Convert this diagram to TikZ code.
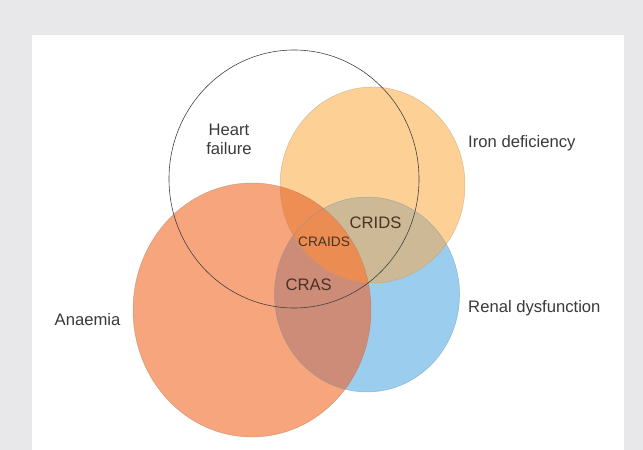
\documentclass[tikz,border=0pt]{standalone}
\usepackage{fontspec}
\setmainfont{Liberation Sans}

\definecolor{framegray}{HTML}{E8E8EA}
\definecolor{anaemiafill}{HTML}{F7A57D}
\definecolor{ironfill}{HTML}{FDD096}
\definecolor{renalfill}{HTML}{9BCDEE}
\definecolor{anaemiairon}{HTML}{EE8E55}
\definecolor{ironrenal}{HTML}{CDB996}
\definecolor{anaemiarenal}{HTML}{CD8C78}
\definecolor{allthree}{HTML}{EB8C52}
\definecolor{labelgray}{HTML}{3A3A3A}
\definecolor{innerlabel}{HTML}{4A3226}

\newcommand{\heartpath}{(294,179) ellipse [x radius=125, y radius=129]}
\newcommand{\ironpath}{(372.5,185) ellipse [x radius=92.5, y radius=98]}
\newcommand{\renalpath}{(367,294.5) ellipse [x radius=92.6, y radius=97.5]}
\newcommand{\anaemiapath}{(252,310) ellipse [x radius=119, y radius=127]}

\begin{document}
\begin{tikzpicture}[x=0.03cm, y=-0.03cm,
    every node/.style={font=\fontsize{14.2}{16.2}\selectfont, text=labelgray, inner sep=0pt},
    inlabel/.style={text=innerlabel}]
  % frame
  \useasboundingbox (0,0) rectangle (643,450);
  \fill[framegray] (0,0) rectangle (643,450);
  \fill[white] (32,35) rectangle (624,450);

  % circles
  \fill[renalfill] \renalpath;
  \fill[ironfill] \ironpath;
  \fill[anaemiafill] \anaemiapath;

  % overlaps
  \begin{scope}
    \clip \anaemiapath;
    \fill[anaemiairon] \ironpath;
    \fill[anaemiarenal] \renalpath;
  \end{scope}
  \begin{scope}
    \clip \ironpath;
    \fill[ironrenal] \renalpath;
  \end{scope}
  \begin{scope}
    \clip \anaemiapath;
    \clip \ironpath;
    \fill[allthree] \renalpath;
  \end{scope}

  % outlines
  \draw[renalfill!70!black, line width=0.4pt, opacity=0.5] \renalpath;
  \draw[ironfill!70!black, line width=0.4pt, opacity=0.5] \ironpath;
  \draw[anaemiafill!70!black, line width=0.4pt, opacity=0.5] \anaemiapath;
  \draw[black!75, line width=0.5pt] \heartpath;

  % labels
  \node[anchor=north, align=center] (heart) at (229,124) {Heart\\failure};
  \node[anchor=base west] (iron) at (468,147.7) {Iron deficiency};
  \node[anchor=base west] (renal) at (468,312.7) {Renal dysfunction};
  \node[anchor=base west] (anaemia) at (54.5,325) {Anaemia};
  \node[inlabel, anchor=base] (crids) at (375.5,228.3) {CRIDS};
  \node[inlabel, anchor=base, font=\fontsize{11.7}{14}\selectfont] (craids) at (324,246) {CRAIDS};
  \node[inlabel, anchor=base] (cras) at (308.7,290) {CRAS};
\end{tikzpicture}
\end{document}
